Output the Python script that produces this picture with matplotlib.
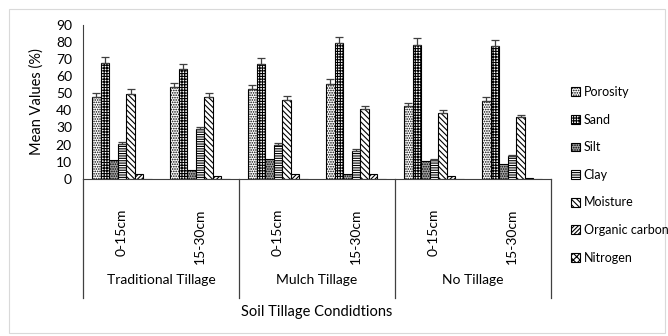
import numpy as np
import matplotlib.pyplot as plt
from matplotlib.patches import Rectangle

plt.rcParams['font.family'] = ['Lato', 'DejaVu Sans']
plt.rcParams['hatch.linewidth'] = 0.8

# soil properties per tillage system and depth
depths = ['0-15cm', '15-30cm', '0-15cm', '15-30cm', '0-15cm', '15-30cm']
tillage = ['Traditional Tillage', 'Mulch Tillage', 'No Tillage']
series = ['Porosity', 'Sand', 'Silt', 'Clay', 'Moisture', 'Organic carbon', 'Nitrogen']

porosity = [47.7, 53.5, 52.2, 55.3, 42.4, 45.5]
sand = [67.6, 64.0, 67.0, 79.0, 78.2, 77.4]
silt = [11.0, 5.3, 11.9, 2.9, 10.2, 8.8]
clay = [20.5, 29.1, 19.8, 16.4, 10.9, 13.3]
moisture = [49.8, 48.0, 46.1, 40.8, 38.5, 35.9]
organic_carbon = [2.7, 1.8, 2.7, 3.1, 1.5, 0.8]
nitrogen = [0.15, 0.12, 0.12, 0.15, 0.1, 0.08]

err_porosity = [2.5, 2.5, 2.5, 2.8, 2.0, 2.0]
err_sand = [3.5, 3.2, 3.3, 3.5, 3.7, 3.7]
err_silt = [0, 0, 0, 0, 0, 0]
err_clay = [1.2, 1.3, 1.2, 0.8, 0.8, 0.8]
err_moisture = [2.5, 2.3, 2.2, 2.0, 1.8, 1.6]
err_oc = [0, 0, 0, 0, 0, 0]
err_n = [0, 0, 0, 0, 0, 0]

values = [porosity, sand, silt, clay, moisture, organic_carbon, nitrogen]
errors = [err_porosity, err_sand, err_silt, err_clay, err_moisture, err_oc, err_n]
styles = [('white', '.......'), ('white', '++++++'), ('#a6a6a6', '.......'),
          ('white', '-------'), ('white', '\\\\\\\\\\\\'), ('white', '////////'),
          ('white', 'xxxxx')]

fig = plt.figure(figsize=(6.68, 3.36), dpi=100)
ax = fig.add_axes([83 / 668, 1 - 179 / 336, 468 / 668, 154.5 / 336])

x = np.arange(len(depths))
w = 0.109
for i, (vals, errs, (fc, hatch)) in enumerate(zip(values, errors, styles)):
    pos = x - 3 * w + i * w
    ax.bar(pos, vals, width=w, facecolor=fc, edgecolor='black',
           hatch=hatch, linewidth=0.8, label=series[i], zorder=2)
    if max(errs) > 0:
        ax.errorbar(pos, vals, yerr=[np.zeros(len(errs)), errs], fmt='none',
                    ecolor='#404040', elinewidth=0.9, capsize=3, capthick=0.9, zorder=3)

ax.set_xlim(-0.5, len(depths) - 0.5)
ax.set_ylim(0, 90)
ax.set_yticks(range(0, 91, 10))
ax.tick_params(axis='y', length=0, pad=8, labelsize=10)
ax.set_xticks(x)
ax.set_xticklabels(depths, rotation=90, va='top', ha='center', fontsize=10)
ax.tick_params(axis='x', length=0, pad=21)
for s in ['top', 'right']:
    ax.spines[s].set_visible(False)
ax.spines['left'].set_color('#404040')
ax.spines['bottom'].set_color('#404040')
ax.set_ylabel('Mean Values (%)', fontsize=10.5, labelpad=9)

# group separators and group names under the axis
trans = ax.get_xaxis_transform()
for sx in [-0.5, 1.5, 3.5, 5.5]:
    ax.plot([sx, sx], [0, -0.768], transform=trans, color='#404040',
            lw=0.9, clip_on=False)
for k, name in enumerate(tillage):
    ax.text(2 * k + 0.5, -0.655, name, transform=trans, ha='center',
            va='center', fontsize=10)
ax.text(2.5, -0.86, 'Soil Tillage Condidtions', transform=trans,
        ha='center', va='center', fontsize=10.5)

fig.legend(loc='upper left', bbox_to_anchor=(566 / 668, 1 - 81 / 336),
           frameon=False, fontsize=9, handlelength=0.7, handleheight=0.7,
           handletextpad=0.3, labelspacing=1.25, borderaxespad=0)

fig.patches.append(Rectangle((9 / 668, 3 / 336), 656 / 668, 324 / 336,
                             transform=fig.transFigure, fill=False,
                             edgecolor='#d9d9d9', lw=0.8))

fig.savefig('out.png', dpi=100)
